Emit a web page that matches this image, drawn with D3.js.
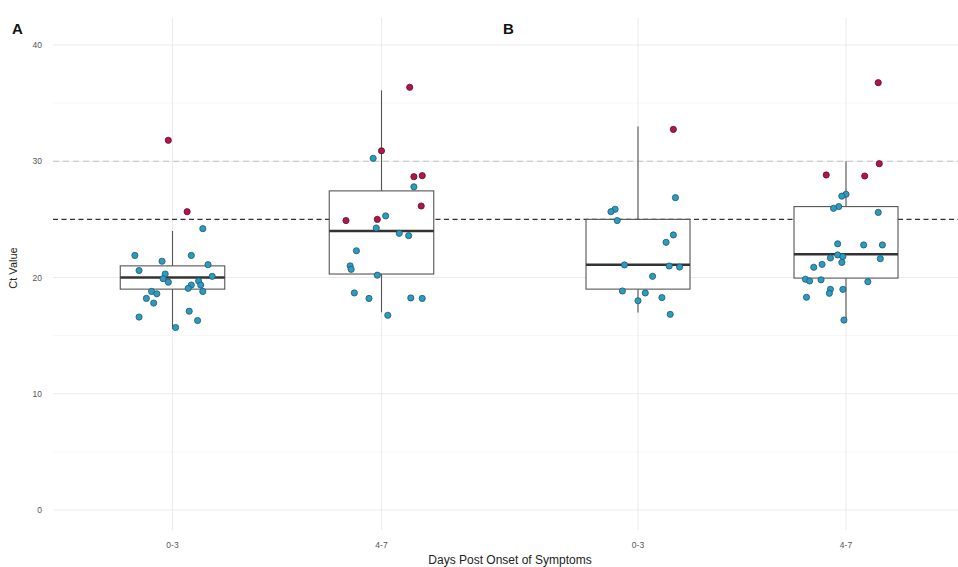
<!DOCTYPE html>
<html><head><meta charset="utf-8">
<script src="https://cdn.jsdelivr.net/npm/d3@7"></script>
<style>body{margin:0;background:#fff}svg{display:block;font-family:"Liberation Sans",Arial,sans-serif}</style>
</head><body><svg id="c" width="958" height="567"></svg>
<script>
// ---- data ----
const categories = ["0-3", "4-7"];
const yTicks = [0, 10, 20, 30, 40];
const panels = ["A", "B"];
// box stats per panel/category: [lowerWhisker, q1, median, q3, upperWhisker]
const boxA = [[15.6, 19.0, 20.0, 21.0, 24.0], [17.0, 20.3, 24.0, 27.45, 36.1]];
const boxB = [[17.0, 19.0, 21.1, 25.0, 33.0], [16.1, 19.95, 22.0, 26.1, 30.0]];
// points: value, jitter offset (category units), group (1 = red)
const ptsA03 = [[31.8,-0.02,1],[25.66,0.07,1],[24.2,0.145,0],[21.9,-0.18,0],[21.9,0.09,0],[21.4,-0.05,0],[21.1,0.17,0],[20.6,-0.16,0],[20.1,0.19,0],[20.3,-0.035,0],[19.9,-0.045,0],[19.6,-0.02,0],[19.7,0.125,0],[19.35,0.135,0],[19.35,0.09,0],[19.07,0.075,0],[18.8,0.145,0],[18.8,-0.10,0],[18.6,-0.075,0],[18.2,-0.125,0],[17.8,-0.09,0],[17.1,0.08,0],[16.6,-0.16,0],[16.3,0.12,0],[15.7,0.015,0]];
const ptsA47 = [[36.36,0.135,1],[30.9,0.0,1],[30.25,-0.04,0],[28.67,0.155,1],[28.76,0.195,1],[27.8,0.155,0],[26.15,0.19,1],[24.9,-0.17,1],[25.0,-0.02,1],[25.3,0.02,0],[24.26,-0.025,0],[23.8,0.085,0],[23.6,0.13,0],[22.3,-0.12,0],[21.0,-0.15,0],[20.7,-0.145,0],[20.2,-0.02,0],[18.67,-0.13,0],[18.2,-0.06,0],[18.24,0.14,0],[18.2,0.195,0],[16.75,0.03,0]];
const ptsB03 = [[32.74,0.17,1],[26.87,0.18,0],[25.87,-0.11,0],[25.66,-0.13,0],[24.9,-0.10,0],[23.66,0.17,0],[23.03,0.135,0],[21.08,-0.065,0],[20.99,0.15,0],[20.9,0.20,0],[20.1,0.07,0],[18.84,-0.075,0],[18.67,0.035,0],[18.0,0.0,0],[18.27,0.115,0],[16.83,0.155,0]];
const ptsB47 = [[36.76,0.155,1],[29.79,0.16,1],[28.82,-0.095,1],[28.73,0.09,1],[27.16,0.0,0],[27.0,-0.02,0],[26.1,-0.035,0],[25.95,-0.06,0],[25.6,0.155,0],[22.9,-0.04,0],[22.8,0.085,0],[22.8,0.175,0],[21.94,-0.04,0],[21.8,-0.015,0],[21.68,-0.075,0],[21.62,0.165,0],[21.3,-0.02,0],[21.13,-0.115,0],[20.88,-0.155,0],[19.85,-0.195,0],[19.7,-0.175,0],[19.8,-0.12,0],[19.64,0.105,0],[18.98,-0.075,0],[18.64,-0.08,0],[18.98,-0.015,0],[18.3,-0.19,0],[16.34,-0.01,0]];
const refLines = [{v:30, kind:"light"}, {v:25, kind:"dark"}];

// ---- layout ----
const svg = d3.select("#c");
const y = d3.scaleLinear().domain([0, 40]).range([510, 45]);
const panelDefs = [
  {label:"A", box:boxA, pts:[ptsA03, ptsA47], left:53, right:507, c0:172.5, c1:381.5, lx:12},
  {label:"B", box:boxB, pts:[ptsB03, ptsB47], left:507, right:958, c0:638, c1:846, lx:503}
];
const blue = "#2e9ac0", blueStroke = "#1c5a6e", red = "#b0164a", redStroke = "#5e0f2a";

panelDefs.forEach((p, pi) => {
  const x = d3.scalePoint().domain(categories).range([p.c0, p.c1]);
  const step = p.c1 - p.c0;
  const g = svg.append("g");
  // minor grid
  g.selectAll(".mg").data([5, 15, 25, 35]).join("line")
    .attr("x1", p.left).attr("x2", p.right).attr("y1", d => y(d)).attr("y2", d => y(d))
    .attr("stroke", "#f2f2f2").attr("stroke-width", 0.6);
  // major grid
  g.selectAll(".Mg").data(yTicks).join("line")
    .attr("x1", p.left).attr("x2", p.right).attr("y1", d => y(d)).attr("y2", d => y(d))
    .attr("stroke", "#ebebeb").attr("stroke-width", 1.1);
  g.selectAll(".vg").data(categories).join("line")
    .attr("x1", d => x(d)).attr("x2", d => x(d)).attr("y1", 18).attr("y2", 530)
    .attr("stroke", "#ebebeb").attr("stroke-width", 1.1);
  // reference lines
  refLines.forEach(r => {
    g.append("line").attr("x1", p.left).attr("x2", p.right).attr("y1", y(r.v)).attr("y2", y(r.v))
      .attr("stroke", r.kind === "dark" ? "#333" : "#c4c4c4")
      .attr("stroke-width", r.kind === "dark" ? 1.4 : 1.2)
      .attr("stroke-dasharray", r.kind === "dark" ? "5,3.5" : "6,4");
  });
  // boxes
  categories.forEach((c, ci) => {
    const b = p.box[ci];
    const cx = x(c), hw = step * 0.25;
    g.append("line").attr("x1", cx).attr("x2", cx).attr("y1", y(b[0])).attr("y2", y(b[1])).attr("stroke", "#555").attr("stroke-width", 1.1);
    g.append("line").attr("x1", cx).attr("x2", cx).attr("y1", y(b[3])).attr("y2", y(b[4])).attr("stroke", "#555").attr("stroke-width", 1.1);
    g.append("rect").attr("x", cx - hw).attr("width", 2 * hw).attr("y", y(b[3])).attr("height", y(b[1]) - y(b[3]))
      .attr("fill", "#fff").attr("stroke", "#555").attr("stroke-width", 1.1);
    g.append("line").attr("x1", cx - hw).attr("x2", cx + hw).attr("y1", y(b[2])).attr("y2", y(b[2])).attr("stroke", "#333").attr("stroke-width", 2.4);
  });
  // points
  categories.forEach((c, ci) => {
    g.selectAll(null).data(p.pts[ci]).join("circle")
      .attr("cx", d => x(c) + d[1] * step).attr("cy", d => y(d[0])).attr("r", 3.1)
      .attr("fill", d => d[2] ? red : blue).attr("stroke", d => d[2] ? redStroke : blueStroke).attr("stroke-width", 0.8);
  });
  // x tick labels
  g.selectAll(".xt").data(categories).join("text")
    .attr("x", d => x(d)).attr("y", 548).attr("text-anchor", "middle")
    .attr("font-size", 8.5).attr("fill", "#555").text(d => d);
  // panel label
  svg.append("text").attr("x", p.lx).attr("y", 34).attr("font-size", 15).attr("font-weight", "bold").attr("fill", "#111").text(p.label);
});
// y tick labels (panel A only)
svg.selectAll(".yt").data(yTicks).join("text")
  .attr("x", 42).attr("y", d => y(d) + 3).attr("text-anchor", "end")
  .attr("font-size", 8.5).attr("fill", "#555").text(d => d);
// axis titles
svg.append("text").attr("transform", "translate(17,268) rotate(-90)").attr("text-anchor", "middle")
  .attr("font-size", 11).attr("fill", "#222").text("Ct Value");
svg.append("text").attr("x", 510).attr("y", 564).attr("text-anchor", "middle")
  .attr("font-size", 12).attr("fill", "#222").text("Days Post Onset of Symptoms");
</script></body></html>
